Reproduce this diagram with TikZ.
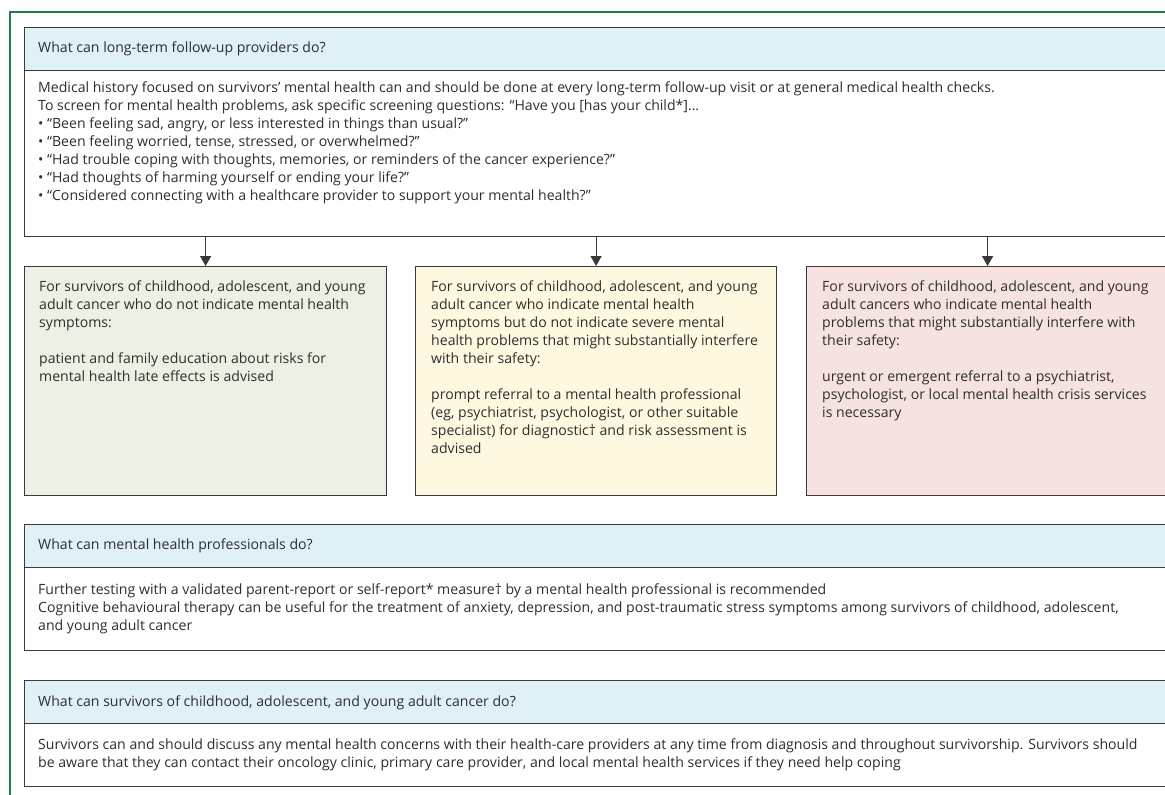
\documentclass[tikz,border=0pt]{standalone}
\usepackage{fontspec}
\setmainfont{Open Sans}
\usetikzlibrary{arrows.meta}
\definecolor{framegreen}{HTML}{1E7F4A}
\definecolor{linegray}{HTML}{3A3A3A}
\definecolor{hdrblue}{HTML}{DFF0F7}
\definecolor{boxgreen}{HTML}{EBF2E4}
\definecolor{boxyellow}{HTML}{FEF8E0}
\definecolor{boxpink}{HTML}{F5E2E1}
\definecolor{textgray}{HTML}{2E2E2E}
\tikzset{
  frameline/.style={draw=framegreen, line width=1.1pt},
  boxline/.style={draw=linegray, line width=1.2pt},
  hdr/.style={boxline, fill=hdrblue, anchor=north west, minimum width=1156pt, minimum height=43pt, inner sep=0pt},
  bodybox/.style={boxline, fill=white, anchor=north west, minimum width=1156pt, inner sep=0pt},
  colbox/.style={boxline, anchor=north west, minimum height=229pt, inner sep=0pt},
  txt/.style={anchor=north west, align=left, inner sep=0pt, text=textgray, font=\fontsize{14.1}{18}\selectfont},
  arr/.style={draw=linegray, line width=1.2pt, -{Triangle[width=11pt,length=10pt]}}
}
\begin{document}
\begin{tikzpicture}[x=1pt,y=-1pt]
\clip (0,0) rectangle (1165,795);
\fill[white] (0,0) rectangle (1165,795);
\draw[frameline] (1170,12) -- (10,12) -- (10,800);

% block 1
\node[hdr] (h1) at (24,27) {};
\node[bodybox, minimum height=166pt] (b1) at (24,70) {};
\node[txt] (h1t) at (38,39.9) {\strut What can long-term follow-up providers do?};
\node[txt] (b1t) at (38,79.9) {\strut Medical history focused on survivors’ mental health can and should be done at every long-term follow-up visit or at general medical health checks.\\
To screen for mental health problems, ask specific screening questions: “Have you [has your child*]…\\
• “Been feeling sad, angry, or less interested in things than usual?”\\
• “Been feeling worried, tense, stressed, or overwhelmed?”\\
• “Had trouble coping with thoughts, memories, or reminders of the cancer experience?”\\
• “Had thoughts of harming yourself or ending your life?”\\
• “Considered connecting with a healthcare provider to support your mental health?”};

% coloured boxes
\node[colbox, fill=boxgreen, minimum width=362pt] (g) at (24,266) {};
\node[colbox, fill=boxyellow, minimum width=361pt] (y) at (415,266) {};
\node[colbox, fill=boxpink, minimum width=362pt] (p) at (806,266) {};

\node[txt] (gt) at (39,278.9) {\strut For survivors of childhood, adolescent, and young\\
adult cancer who do not indicate mental health\\
symptoms:\\[18pt]
patient and family education about risks for\\
mental health late effects is advised};

\node[txt] (yt) at (431,278.9) {\strut For survivors of childhood, adolescent, and young\\
adult cancer who indicate mental health\\
symptoms but do not indicate severe mental\\
health problems that might substantially interfere\\
with their safety:\\[18pt]
prompt referral to a mental health professional\\
(eg, psychiatrist, psychologist, or other suitable\\
specialist) for diagnostic† and risk assessment is\\
advised};

\node[txt] (pt) at (822,278.9) {\strut For survivors of childhood, adolescent, and young\\
adult cancers who indicate mental health\\
problems that might substantially interfere with\\
their safety:\\[18pt]
urgent or emergent referral to a psychiatrist,\\
psychologist, or local mental health crisis services\\
is necessary};

\draw[arr] (b1.south -| g.north) -- (g.north);
\draw[arr] (b1.south -| y.north) -- (y.north);
\draw[arr] (b1.south -| p.north) -- (p.north);

% block 2
\node[hdr] (h2) at (24,524) {};
\node[bodybox, minimum height=83pt] (b2) at (24,567) {};
\node[txt] (h2t) at (38,536.9) {\strut What can mental health professionals do?};
\node[txt] (b2t) at (38,581.9) {\strut Further testing with a validated parent-report or self-report* measure† by a mental health professional is recommended\\
Cognitive behavioural therapy can be useful for the treatment of anxiety, depression, and post-traumatic stress symptoms among survivors of childhood, adolescent,\\
and young adult cancer};

% block 3
\node[hdr] (h3) at (24,680) {};
\node[bodybox, minimum height=63pt] (b3) at (24,723) {};
\node[txt] (h3t) at (38,693.9) {\strut What can survivors of childhood, adolescent, and young adult cancer do?};
\node[txt] (b3t) at (38,736.9) {\strut Survivors can and should discuss any mental health concerns with their health-care providers at any time from diagnosis and throughout survivorship. Survivors should\\
be aware that they can contact their oncology clinic, primary care provider, and local mental health services if they need help coping};
\end{tikzpicture}
\end{document}
